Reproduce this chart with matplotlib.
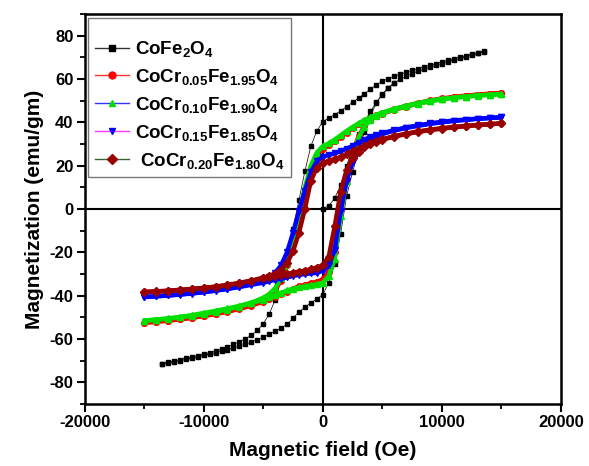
import matplotlib.pyplot as plt
from matplotlib.lines import Line2D
from matplotlib.ticker import MultipleLocator

plt.rcParams['font.family'] = ['Liberation Sans', 'DejaVu Sans']
plt.rcParams['font.weight'] = 'bold'
plt.rcParams['mathtext.fontset'] = 'custom'
plt.rcParams['mathtext.rm'] = 'Liberation Sans:bold'
plt.rcParams['mathtext.bf'] = 'Liberation Sans:bold'
plt.rcParams['mathtext.default'] = 'bf'
plt.rcParams['axes.unicode_minus'] = False

# ---- CoFe2O4 (Oe / emu/gm) ----
black_field_virgin = [0, 500, 1000, 1500, 2000, 2500, 3000, 3500, 4000, 4500, 5000, 5500, 6000]
black_m_virgin = [0.0, 1.5, 5.0, 11.0, 20.0, 28.0, 34.5, 40.0, 45.0, 49.3, 52.8, 55.8, 58.2]

black_field_down = [13500, 13000, 12500, 12000, 11500, 11000, 10500, 10000, 9500, 9000,
                    8500, 8000, 7500, 7000, 6500, 6000, 5500, 5000, 4500, 4000,
                    3500, 3000, 2500, 2000, 1500, 1000, 500, 0, -500, -1000,
                    -1500, -2000, -2500, -3000, -3500, -4000, -4500, -5000, -5500, -6000,
                    -6500, -7000, -7500, -8000, -8500, -9000, -9500, -10000, -10500, -11000,
                    -11500, -12000, -12500, -13000, -13500]
black_m_down = [72.8, 72.2, 71.5, 70.8, 70.0, 69.3, 68.6, 67.9, 67.1, 66.3,
                65.6, 64.8, 64.0, 63.1, 62.2, 61.2, 60.2, 59.0, 57.3, 55.3,
                53.2, 51.2, 49.2, 47.2, 45.3, 43.5, 42.0, 40.3, 36.0, 29.0,
                17.5, 4.0, -9.0, -21.0, -32.0, -42.0, -48.5, -53.0, -56.0, -58.3,
                -59.9, -61.3, -62.5, -63.6, -64.6, -65.5, -66.3, -67.0, -67.7, -68.3,
                -68.9, -69.5, -70.1, -70.7, -71.3]
black_field_up = black_field_down[::-1]
black_m_up = [-71.5, -71.0, -70.5, -70.0, -69.4, -68.8, -68.2, -67.6, -67.0, -66.3,
              -65.6, -64.9, -64.1, -63.3, -62.4, -61.4, -60.3, -59.1, -57.8, -56.4,
              -54.9, -53.2, -50.5, -47.5, -45.3, -43.3, -41.5, -39.5, -34.0, -25.5,
              -11.5, 6.0, 17.0, 27.0, 35.5, 43.0, 49.0, 53.0, 56.0, 58.2,
              59.9, 61.3, 62.5, 63.6, 64.5, 65.4, 66.3, 67.1, 67.9, 68.7,
              69.5, 70.2, 71.0, 71.8, 72.6]

# ---- Cr doped samples, common field sweep ----
field_down = [15000, 14000, 13000, 12000, 11000, 10000, 9000, 8000, 7000, 6000, 5000,
              4500, 4000, 3500, 3000, 2500, 2000, 1500, 1000, 500, 0,
              -500, -1000, -1500, -2000, -2500, -3000, -3500, -4000, -4500,
              -5000, -6000, -7000, -8000, -9000, -10000, -11000, -12000, -13000, -14000, -15000]
field_up = field_down[::-1]

cr05_down = [53.5, 53.2, 52.8, 52.3, 51.7, 51.0, 50.1, 48.9, 47.6, 46.1, 44.3,
             43.3, 42.0, 40.6, 39.0, 37.2, 35.3, 33.3, 31.2, 29.4, 27.5,
             25.0, 19.0, 8.0, -4.0, -16.0, -26.0, -33.0, -37.5, -40.2,
             -42.0, -44.3, -45.9, -47.2, -48.3, -49.3, -50.2, -50.9, -51.5, -52.0, -52.5]
cr05_up = [-52.5, -52.0, -51.5, -50.9, -50.2, -49.4, -48.5, -47.4, -46.1, -44.6, -42.8,
           -41.7, -40.6, -39.4, -38.1, -36.8, -35.7, -35.0, -34.3, -33.6, -32.5,
           -29.0, -20.0, 0.0, 14.0, 26.0, 33.5, 38.3, 41.3, 42.9,
           44.0, 45.8, 47.3, 48.6, 49.8, 50.8, 51.6, 52.2, 52.7, 53.1, 53.5]

cr10_down = [53.0, 52.7, 52.3, 51.9, 51.4, 50.8, 50.0, 48.9, 47.6, 46.2, 44.5,
             43.5, 42.3, 41.0, 39.5, 37.8, 36.0, 34.0, 32.0, 30.3, 29.0,
             26.0, 20.0, 10.0, -2.0, -14.0, -25.0, -32.0, -36.5, -39.3,
             -41.0, -43.2, -44.7, -45.9, -47.0, -48.0, -49.0, -49.8, -50.5, -51.0, -51.5]
cr10_up = [-51.5, -51.1, -50.6, -50.0, -49.3, -48.5, -47.5, -46.4, -45.0, -43.5, -41.8,
           -40.8, -39.8, -38.7, -37.6, -36.8, -36.2, -35.7, -35.2, -34.7, -34.0,
           -31.0, -23.0, -3.0, 13.0, 25.0, 33.0, 38.0, 41.3, 42.8,
           44.2, 46.0, 47.4, 48.6, 49.7, 50.6, 51.3, 51.9, 52.4, 52.7, 53.0]

cr15_down = [42.3, 42.0, 41.7, 41.3, 40.8, 40.2, 39.5, 38.6, 37.6, 36.4, 35.0,
             34.1, 33.2, 32.0, 30.6, 29.1, 27.8, 26.7, 25.7, 24.9, 24.0,
             22.0, 17.0, 8.5, -1.0, -11.0, -20.0, -26.0, -29.5, -31.5,
             -33.0, -34.6, -35.8, -36.8, -37.6, -38.3, -38.9, -39.4, -39.9, -40.3, -40.6]
cr15_up = [-40.6, -40.3, -39.9, -39.5, -39.0, -38.4, -37.7, -36.9, -36.0, -35.0, -34.0,
           -33.3, -32.7, -32.1, -31.5, -30.9, -30.4, -30.0, -29.7, -29.4, -28.5,
           -26.0, -19.0, -1.0, 13.0, 21.5, 26.5, 29.5, 31.7, 33.3,
           34.6, 36.2, 37.4, 38.4, 39.3, 40.0, 40.6, 41.1, 41.6, 42.0, 42.3]

cr20_down = [39.5, 39.2, 38.8, 38.4, 37.9, 37.3, 36.6, 35.8, 34.8, 33.6, 32.2,
             31.3, 30.3, 29.2, 27.9, 26.6, 25.3, 24.0, 23.0, 22.2, 21.3,
             19.0, 13.0, 0.0, -11.0, -19.5, -25.0, -28.0, -29.8, -31.0,
             -31.7, -33.0, -34.1, -35.0, -35.8, -36.4, -36.9, -37.3, -37.7, -38.0, -38.3]
cr20_up = [-38.3, -38.1, -37.8, -37.4, -37.0, -36.5, -35.9, -35.2, -34.3, -33.2, -32.0,
           -31.5, -31.0, -30.5, -30.0, -29.4, -28.9, -28.4, -27.8, -27.0, -26.0,
           -22.0, -8.0, 8.0, 18.0, 23.5, 26.5, 28.5, 30.0, 31.1,
           32.0, 33.4, 34.6, 35.6, 36.4, 37.1, 37.7, 38.2, 38.7, 39.1, 39.5]

labels = [r'CoFe$_2$O$_4$',
          r'CoCr$_{0.05}$Fe$_{1.95}$O$_4$',
          r'CoCr$_{0.10}$Fe$_{1.90}$O$_4$',
          r'CoCr$_{0.15}$Fe$_{1.85}$O$_4$',
          r' CoCr$_{0.20}$Fe$_{1.80}$O$_4$']
marker_colors = ['black', '#ff0000', '#00e000', '#0000ff', '#990000']
line_colors = ['#333333', '#ff3333', '#3333ff', '#ff33ff', '#336633']
markers = ['s', 'o', '^', 'v', 'D']

fig = plt.figure(figsize=(5.89, 4.66), dpi=100)
ax = fig.add_axes([0.1435, 0.133, 0.809, 0.837])

ax.axhline(0, color='black', lw=1.5, zorder=1)
ax.axvline(0, color='black', lw=1.5, zorder=1)

# CoFe2O4: virgin curve + loop
for fx, my in [(black_field_virgin, black_m_virgin), (black_field_down, black_m_down),
               (black_field_up, black_m_up)]:
    ax.plot(fx, my, color='black', lw=0.5, marker='s', ms=3.2, mec='black', mfc='black', zorder=2)

doped = [(cr05_down, cr05_up), (cr10_down, cr10_up), (cr15_down, cr15_up), (cr20_down, cr20_up)]
for i, (down, up) in enumerate(doped):
    c = marker_colors[i + 1]
    m = markers[i + 1]
    ms = 3.6 if m == 'D' else 4
    for fx, my in [(field_down, down), (field_up, up)]:
        ax.plot(fx, my, color=c, lw=3.2, solid_capstyle='round', zorder=3 + i)
        ax.plot(fx, my, ls='none', marker=m, ms=ms, mfc=c, mec=c, zorder=3 + i)

ax.set_xlim(-20000, 20000)
ax.set_ylim(-90, 90)
ax.xaxis.set_major_locator(MultipleLocator(10000))
ax.xaxis.set_minor_locator(MultipleLocator(5000))
ax.yaxis.set_major_locator(MultipleLocator(20))
ax.yaxis.set_minor_locator(MultipleLocator(10))
ax.tick_params(which='major', direction='out', length=6, width=1.5, labelsize=12, pad=2)
ax.tick_params(which='minor', direction='out', length=3.5, width=1.3)
for s in ax.spines.values():
    s.set_linewidth(1.8)

ax.set_xlabel('Magnetic field (Oe)', fontsize=15, fontweight='bold', labelpad=8)
ax.set_ylabel('Magnetization (emu/gm)', fontsize=15, fontweight='bold', labelpad=4)

handles = [Line2D([], [], color=line_colors[i], lw=1.0, marker=markers[i], ms=5,
                  mfc=marker_colors[i], mec=marker_colors[i]) for i in range(5)]
leg = ax.legend(handles, labels, loc='upper left', fontsize=13.5, frameon=True, fancybox=False,
                edgecolor='#777777', framealpha=1, borderaxespad=0.2, borderpad=0.35,
                labelspacing=0.42, handlelength=1.8, handletextpad=0.35,
                title=' ', title_fontsize=6)
leg.get_frame().set_linewidth(1.0)

fig.savefig('out.png', dpi=100)
